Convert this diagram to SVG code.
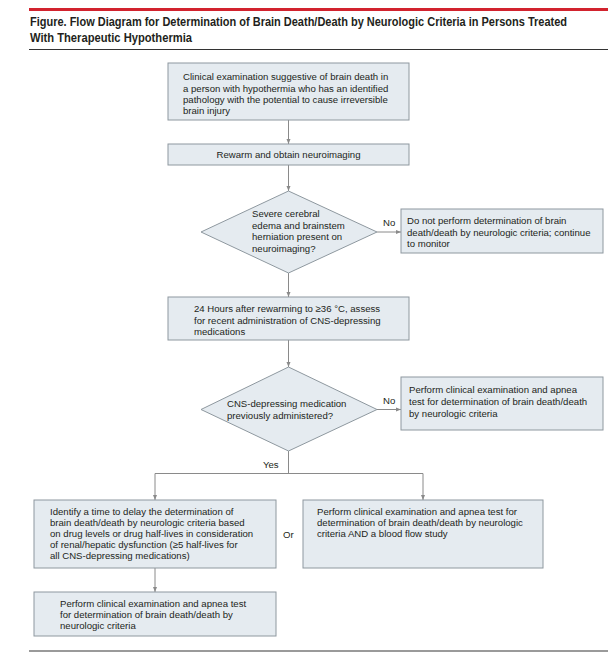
<svg xmlns="http://www.w3.org/2000/svg" width="614" height="658" viewBox="0 0 614 658">
<defs>
<style>
.box{fill:#e5ebf0;stroke:#8e989f;stroke-width:1}
.t{font-family:"Liberation Sans",Arial,sans-serif;font-size:9.6px;fill:#231f20}
.title{font-family:"Liberation Sans Narrow","Liberation Sans",Arial,sans-serif;font-size:12.5px;font-weight:bold;fill:#231f20}
.c{fill:none;stroke:#8a8a8a;stroke-width:1}
</style>
<marker id="ah" viewBox="0 0 10 10" refX="10" refY="5" markerWidth="5" markerHeight="5" orient="auto" markerUnits="userSpaceOnUse">
<path d="M0,1 L10,5 L0,9 Z" fill="#8a8a8a"/>
</marker>
</defs>
<rect width="614" height="658" fill="#ffffff"/>
<g id="header">
<rect x="29" y="8" width="579" height="3" fill="#d2232e"/>
<text class="title" x="30" y="26" textLength="537" lengthAdjust="spacingAndGlyphs">Figure. Flow Diagram for Determination of Brain Death/Death by Neurologic Criteria in Persons Treated</text>
<text class="title" x="30" y="42" textLength="162" lengthAdjust="spacingAndGlyphs">With Therapeutic Hypothermia</text>
<rect x="29" y="49" width="579" height="1" fill="#333333"/>
<rect x="29" y="650" width="579" height="2" fill="#9a9a9a"/>
</g>

<g id="connectors">
<line class="c" x1="288.5" y1="120" x2="288.5" y2="144" marker-end="url(#ah)"/>
<line class="c" x1="288.5" y1="165" x2="288.5" y2="191" marker-end="url(#ah)"/>
<line class="c" x1="377" y1="232" x2="401" y2="232" marker-end="url(#ah)"/>
<text class="t" x="383" y="226">No</text>
<line class="c" x1="288.5" y1="273" x2="288.5" y2="297" marker-end="url(#ah)"/>
<line class="c" x1="288.5" y1="340" x2="288.5" y2="367" marker-end="url(#ah)"/>
<line class="c" x1="377" y1="409.5" x2="401" y2="409.5" marker-end="url(#ah)"/>
<text class="t" x="383" y="404">No</text>
<polyline class="c" points="288.5,451 288.5,473.5"/>
<text class="t" x="263" y="468">Yes</text>
<polyline class="c" points="155,473.5 423,473.5"/>
<line class="c" x1="155" y1="473.5" x2="155" y2="500" marker-end="url(#ah)"/>
<line class="c" x1="423" y1="473.5" x2="423" y2="500" marker-end="url(#ah)"/>
<line class="c" x1="155" y1="568" x2="155" y2="592" marker-end="url(#ah)"/>
</g>

<g id="n1">
<rect class="box" x="168" y="63" width="241" height="57"/>
<text class="t" x="183" y="80">Clinical examination suggestive of brain death in</text>
<text class="t" x="183" y="91.5">a person with hypothermia who has an identified</text>
<text class="t" x="183" y="102.5">pathology with the potential to cause irreversible</text>
<text class="t" x="183" y="113.5">brain injury</text>
</g>
<g id="n2">
<rect class="box" x="168" y="144" width="241" height="21"/>
<text class="t" x="288.5" y="158" text-anchor="middle">Rewarm and obtain neuroimaging</text>
</g>
<g id="d1">
<polygon class="box" points="288.5,191 377,232 288.5,273 201,232"/>
<text class="t" x="252" y="217">Severe cerebral</text>
<text class="t" x="252" y="228.5">edema and brainstem</text>
<text class="t" x="252" y="240">herniation present on</text>
<text class="t" x="252" y="251.5">neuroimaging?</text>
</g>
<g id="n3">
<rect class="box" x="401" y="209" width="202" height="44"/>
<text class="t" x="407" y="224">Do not perform determination of brain</text>
<text class="t" x="407" y="235.5">death/death by neurologic criteria; continue</text>
<text class="t" x="407" y="247">to monitor</text>
</g>
<g id="n4">
<rect class="box" x="168" y="297" width="241" height="43"/>
<text class="t" x="194" y="312">24 Hours after rewarming to ≥36 °C, assess</text>
<text class="t" x="194" y="323.5">for recent administration of CNS-depressing</text>
<text class="t" x="194" y="335">medications</text>
</g>
<g id="d2">
<polygon class="box" points="288.5,367 377,409.5 288.5,451 201,409.5"/>
<text class="t" x="227" y="407">CNS-depressing medication</text>
<text class="t" x="227" y="419">previously administered?</text>
</g>
<g id="n5">
<rect class="box" x="401" y="377" width="202" height="53"/>
<text class="t" x="409" y="393">Perform clinical examination and apnea</text>
<text class="t" x="409" y="405">test for determination of brain death/death</text>
<text class="t" x="409" y="417">by neurologic criteria</text>
</g>
<g id="n6">
<rect class="box" x="34" y="500" width="242" height="68"/>
<text class="t" x="50" y="514.5">Identify a time to delay the determination of</text>
<text class="t" x="50" y="525.6">brain death/death by neurologic criteria based</text>
<text class="t" x="50" y="536.7">on drug levels or drug half-lives in consideration</text>
<text class="t" x="50" y="547.8">of renal/hepatic dysfunction (≥5 half-lives for</text>
<text class="t" x="50" y="558.9">all CNS-depressing medications)</text>
</g>
<text class="t" x="283" y="538">Or</text>
<g id="n7">
<rect class="box" x="303" y="500" width="240" height="68"/>
<text class="t" x="317" y="514.5">Perform clinical examination and apnea test for</text>
<text class="t" x="317" y="525.6">determination of brain death/death by neurologic</text>
<text class="t" x="317" y="536.7">criteria AND a blood flow study</text>
</g>
<g id="n8">
<rect class="box" x="34" y="592" width="242" height="44"/>
<text class="t" x="60" y="607">Perform clinical examination and apnea test</text>
<text class="t" x="60" y="618">for determination of brain death/death by</text>
<text class="t" x="60" y="629">neurologic criteria</text>
</g>
</svg>
